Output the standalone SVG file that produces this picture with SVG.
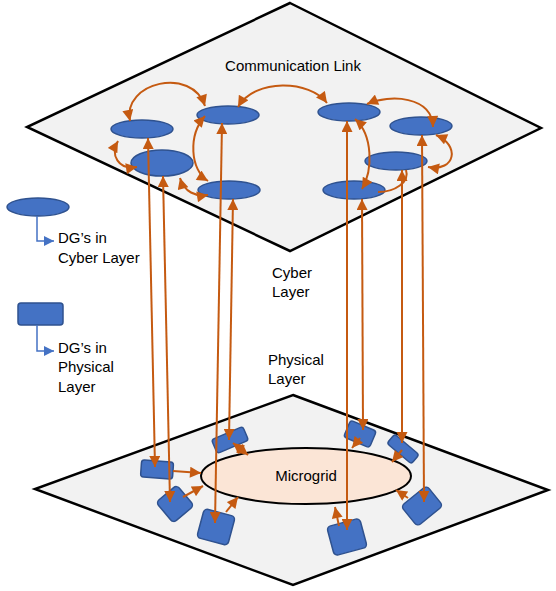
<svg xmlns="http://www.w3.org/2000/svg" width="556" height="591" viewBox="0 0 556 591">
<defs>
<style>
.plane{fill:#F2F2F2;stroke:#000;stroke-width:2.5;stroke-linejoin:miter}
.dg{fill:#4472C4;stroke:#2F528F;stroke-width:1.5}
.lbl{font-family:"Liberation Sans",Arial,sans-serif;font-size:15px;fill:#000}
.c{fill:none;stroke:#C55A11;stroke-width:2}
.c2{marker-start:url(#ah);marker-end:url(#ah)}
.c1{marker-end:url(#ah)}
.leg{fill:none;stroke:#4472C4;stroke-width:1.5;marker-end:url(#bh)}
</style>
<marker id="ah" viewBox="0 0 10 10" refX="10" refY="5" markerWidth="12" markerHeight="11" markerUnits="userSpaceOnUse" orient="auto-start-reverse">
<path d="M0,0 L10,5 L0,10 z" fill="#C55A11"/>
</marker>
<marker id="bh" viewBox="0 0 10 10" refX="10" refY="5" markerWidth="10" markerHeight="10" markerUnits="userSpaceOnUse" orient="auto">
<path d="M0,0 L10,5 L0,10 z" fill="#4472C4"/>
</marker>
</defs>
<rect width="556" height="591" fill="#fff"/>

<g id="cyber-plane"><polygon class="plane" points="290,3 541,128 290,251 27,127"/></g>
<g id="physical-plane"><polygon class="plane" points="293,395 548,490 293,585 35,489"/></g>

<text class="lbl" x="293" y="71" text-anchor="middle">Communication Link</text>

<g id="legend-cyber">
<ellipse class="dg" cx="38" cy="207" rx="31" ry="9"/>
<path class="leg" d="M37,216 V241 H54"/>
<text class="lbl" x="58" y="243">DG’s in</text>
<text class="lbl" x="58" y="263">Cyber Layer</text>
</g>
<g id="legend-physical">
<rect class="dg" x="18" y="303" width="45" height="22" rx="3"/>
<path class="leg" d="M37,325 V351 H54"/>
<text class="lbl" x="58" y="353">DG’s in</text>
<text class="lbl" x="58" y="372">Physical</text>
<text class="lbl" x="58" y="392">Layer</text>
</g>

<g id="layer-labels">
<text class="lbl" x="272" y="278">Cyber</text>
<text class="lbl" x="272" y="297">Layer</text>
<text class="lbl" x="268" y="365">Physical</text>
<text class="lbl" x="268" y="384">Layer</text>
</g>

<g id="cyber-dg1"><ellipse class="dg" cx="142" cy="129" rx="31" ry="9"/></g>
<g id="cyber-dg2"><ellipse class="dg" cx="162" cy="163" rx="31" ry="13"/></g>
<g id="cyber-dg3"><ellipse class="dg" cx="228" cy="115" rx="31" ry="9"/></g>
<g id="cyber-dg4"><ellipse class="dg" cx="229" cy="190" rx="31" ry="9"/></g>
<g id="cyber-dg5"><ellipse class="dg" cx="349" cy="112" rx="31" ry="9"/></g>
<g id="cyber-dg6"><ellipse class="dg" cx="421" cy="126" rx="31" ry="9"/></g>
<g id="cyber-dg7"><ellipse class="dg" cx="396" cy="161" rx="31" ry="9"/></g>
<g id="cyber-dg8"><ellipse class="dg" cx="354" cy="190" rx="31" ry="9"/></g>

<g id="microgrid">
<ellipse cx="306" cy="476" rx="105" ry="28" fill="#FBE5D6" stroke="#000" stroke-width="2"/>
<text class="lbl" x="306" y="481" text-anchor="middle">Microgrid</text>
</g>

<g id="phys-dg1"><rect class="dg" x="141" y="461" width="32" height="17" rx="3" transform="rotate(4 157 470)"/></g>
<g id="phys-dg2"><rect class="dg" x="161.5" y="490.5" width="27" height="27" rx="4" transform="rotate(-40 175 504)"/></g>
<g id="phys-dg3"><rect class="dg" x="200" y="512" width="32" height="30" rx="4" transform="rotate(15 216 527)"/></g>
<g id="phys-dg4"><rect class="dg" x="213" y="432.5" width="34" height="15" rx="3" transform="rotate(-23 230 440)"/></g>
<g id="phys-dg5"><rect class="dg" x="346" y="425" width="28" height="18" rx="3" transform="rotate(23 360 434)"/></g>
<g id="phys-dg6"><rect class="dg" x="387" y="443" width="32" height="12" rx="3" transform="rotate(40 403 449)"/></g>
<g id="phys-dg7"><rect class="dg" x="405.5" y="493" width="33" height="26" rx="4" transform="rotate(-39 422 506)"/></g>
<g id="phys-dg8"><rect class="dg" x="330" y="522" width="34" height="30" rx="4" transform="rotate(-15 347 537)"/></g>

<g id="connectors">
<path class="c c2" d="M148,138 L155,467"/>
<path class="c c2" d="M163,176 L170,502"/>
<path class="c c2" d="M222,123 L215,523"/>
<path class="c c2" d="M233,199 L229,440"/>
<path class="c c2" d="M347,121 L347,530"/>
<path class="c c2" d="M362,199 L363,430"/>
<path class="c c2" d="M402,170 L402,443"/>
<path class="c c2" d="M422,135 L424,502"/>

<path class="c c2" d="M130,121 C122,82 192,66 205,106"/>
<path class="c c2" d="M238,107 C255,78 310,80 327,103"/>
<path class="c c2" d="M367,104 C390,94 432,96 433,127"/>
<path class="c c2" d="M118,141 C110,155 118,170 137,167"/>
<path class="c c2" d="M205,116 C188,135 190,170 208,181"/>
<path class="c c2" d="M180,178 C184,192 196,197 208,195"/>
<path class="c c2" d="M355,119 C373,135 373,170 362,189"/>
<path class="c" stroke-width="1.5" d="M378,192 C395,192 410,182 406,170"/>
<path class="c c2" d="M436,135 C460,145 456,172 428,167"/>

<path class="c c1" d="M173,471 L201,473"/>
<path class="c c1" d="M183,497 L203,486"/>
<path class="c c1" d="M226,512 L238,497"/>
<path class="c c2" d="M233,443 L248,455"/>
<path class="c c1" d="M360,438 L352,448"/>
<path class="c c1" d="M402,450 L392,462"/>
<path class="c c1" d="M408,498 L396,490"/>
<path class="c c1" d="M339,526 L335,507"/>
</g>
</svg>
